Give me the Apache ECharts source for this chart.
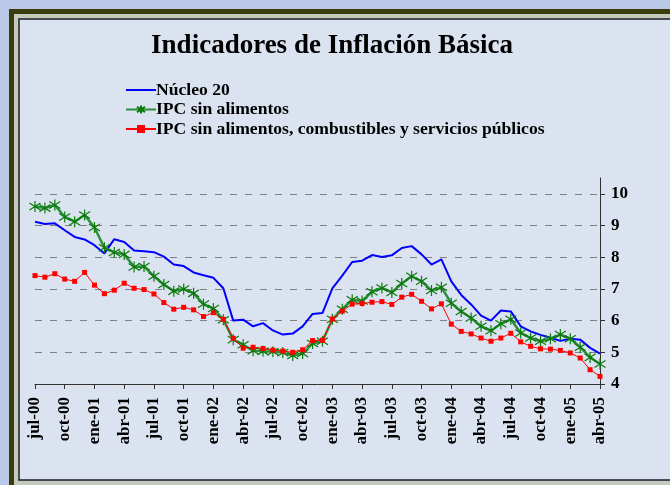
<!DOCTYPE html>
<html>
<head>
<meta charset="utf-8">
<title>Indicadores de Inflación Básica</title>
<script src="https://cdn.jsdelivr.net/npm/echarts@6/dist/echarts.min.js"></script>
<style>
  html, body { margin: 0; padding: 0; background: #b9c8e6; }
  #main { width: 670px; height: 485px; }
</style>
</head>
<body>
<div id="main"></div>
<script>
// meses, jul-00 .. abr-05
var meses = [
  'jul-00','ago-00','sep-00','oct-00','nov-00','dic-00',
  'ene-01','feb-01','mar-01','abr-01','may-01','jun-01','jul-01','ago-01','sep-01','oct-01','nov-01','dic-01',
  'ene-02','feb-02','mar-02','abr-02','may-02','jun-02','jul-02','ago-02','sep-02','oct-02','nov-02','dic-02',
  'ene-03','feb-03','mar-03','abr-03','may-03','jun-03','jul-03','ago-03','sep-03','oct-03','nov-03','dic-03',
  'ene-04','feb-04','mar-04','abr-04','may-04','jun-04','jul-04','ago-04','sep-04','oct-04','nov-04','dic-04',
  'ene-05','feb-05','mar-05','abr-05'
];

var nucleo20 = [
  9.12, 9.05, 9.07, 8.85, 8.64, 8.56,
  8.38, 8.12, 8.57, 8.48, 8.21, 8.19, 8.16, 8.02, 7.77, 7.72, 7.52, 7.43,
  7.35, 7.02, 6.00, 6.03, 5.82, 5.92, 5.69, 5.56, 5.59, 5.82, 6.21, 6.24,
  7.02, 7.42, 7.85, 7.89, 8.07, 8.01, 8.06, 8.29, 8.35, 8.09, 7.77, 7.93,
  7.24, 6.81, 6.51, 6.16, 6.00, 6.32, 6.29, 5.82, 5.66, 5.55, 5.46, 5.36,
  5.43, 5.40, 5.14, 4.96
];

var ipcSinAlim = [
  9.60, 9.55, 9.65, 9.27, 9.12, 9.33,
  8.94, 8.30, 8.15, 8.09, 7.69, 7.71, 7.40, 7.14, 6.93, 7.00, 6.86, 6.52,
  6.38, 6.03, 5.40, 5.24, 5.05, 5.03, 5.02, 4.99, 4.90, 4.96, 5.28, 5.35,
  6.04, 6.36, 6.66, 6.62, 6.91, 7.03, 6.89, 7.17, 7.40, 7.24, 6.95, 7.05,
  6.55, 6.29, 6.08, 5.82, 5.68, 5.90, 6.04, 5.61, 5.45, 5.35, 5.43, 5.56,
  5.43, 5.16, 4.84, 4.63
];

var ipcSinAlimComb = [
  7.42, 7.37, 7.48, 7.31, 7.24, 7.52,
  7.12, 6.85, 6.96, 7.18, 7.02, 6.98, 6.84, 6.57, 6.36, 6.42, 6.34, 6.13,
  6.25, 6.04, 5.44, 5.13, 5.16, 5.12, 5.07, 5.04, 5.00, 5.08, 5.37, 5.38,
  6.05, 6.30, 6.52, 6.54, 6.58, 6.60, 6.51, 6.74, 6.83, 6.61, 6.37, 6.53,
  5.89, 5.66, 5.58, 5.45, 5.35, 5.45, 5.60, 5.33, 5.19, 5.11, 5.10, 5.06,
  4.98, 4.82, 4.45, 4.24
];

var serif = '"Liberation Serif", "Times New Roman", serif';
var estrella = 'path://M0,-5L0,5M-4.6,-3.2L4.6,3.2M-4.6,3.2L4.6,-3.2';

var myChart = echarts.init(document.getElementById('main'));
var option = {
    backgroundColor: 'transparent',
    animation: false,
    graphic: [
        { type: 'rect', z: -10, shape: { x: 9, y: 9, width: 700, height: 500 }, style: { fill: '#3b3b0c' } },
        { type: 'rect', z: -9, shape: { x: 14, y: 14, width: 700, height: 500 }, style: { fill: '#c4cabb' } },
        { type: 'rect', z: -8, shape: { x: 19, y: 19, width: 700, height: 461 },
          style: { fill: '#dce3f0', stroke: '#1c1c28', lineWidth: 1.5 } }
    ],
    title: {
        text: 'Indicadores de Inflación Básica',
        left: 327, top: 28, textAlign: 'center',
        textStyle: { fontFamily: serif, fontWeight: 'bold', fontSize: 27, color: '#000' }
    },
    legend: {
        orient: 'vertical',
        left: 120, top: 76,
        itemWidth: 30, itemHeight: 10, itemGap: 1.5,
        textStyle: { fontFamily: serif, fontWeight: 'bold', fontSize: 17.6, color: '#000', padding: [0, 0, 0, -5] },
        data: [
            { name: 'Núcleo 20', itemStyle: { opacity: 0 } },
            'IPC sin alimentos',
            'IPC sin alimentos, combustibles y servicios públicos'
        ]
    },
    grid: { left: 35, right: 70, top: 178, bottom: 101 },
    xAxis: {
        type: 'category',
        data: meses,
        boundaryGap: false,
        axisLine: { lineStyle: { color: '#303030', width: 1 } },
        axisTick: { interval: 2, length: 5, lineStyle: { color: '#303030' } },
        axisLabel: {
            interval: 2, rotate: 90, margin: 13,
            fontFamily: serif, fontWeight: 'bold', fontSize: 17, color: '#000'
        },
        splitLine: { show: false }
    },
    yAxis: {
        type: 'value',
        position: 'right',
        min: 4, max: 10.5, interval: 1,
        axisLine: { show: true, lineStyle: { color: '#303030', width: 1 } },
        axisTick: { show: true, length: 5, lineStyle: { color: '#303030' } },
        axisLabel: {
            showMaxLabel: false, margin: 11,
            fontFamily: serif, fontWeight: 'bold', fontSize: 17, color: '#000'
        },
        splitLine: {
            show: true, showMinLine: false, showMaxLine: false,
            lineStyle: { color: '#808080', type: [7, 8], width: 1 }
        }
    },
    series: [
        {
            name: 'Núcleo 20',
            type: 'line',
            data: nucleo20,
            symbol: 'none',
            color: '#0000ff',
            lineStyle: { color: '#0000ff', width: 2 },
            z: 3
        },
        {
            name: 'IPC sin alimentos',
            type: 'line',
            data: ipcSinAlim,
            symbol: estrella,
            symbolSize: [11, 11],
            showAllSymbol: true,
            color: '#1a8a2a',
            itemStyle: { color: '#0a7a0a', borderColor: '#0a7a0a', borderWidth: 1.2 },
            lineStyle: { color: '#2a8f3a', width: 2.5 },
            z: 4
        },
        {
            name: 'IPC sin alimentos, combustibles y servicios públicos',
            type: 'line',
            data: ipcSinAlimComb,
            symbol: 'rect',
            symbolSize: 5,
            showAllSymbol: true,
            color: '#ff0000',
            itemStyle: { color: '#ff0000' },
            lineStyle: { color: '#ff0000', width: 1 },
            z: 5
        }
    ]
};
myChart.setOption(option);
</script>
</body>
</html>
